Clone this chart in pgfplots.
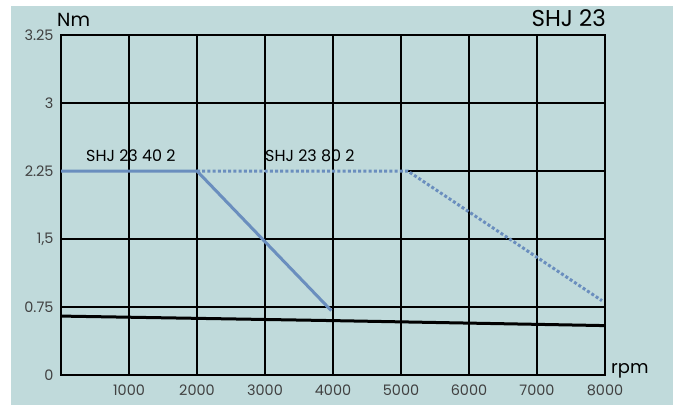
\documentclass[border=0pt]{standalone}
\usepackage{fontspec}
\setmainfont{Poppins}
\usepackage{pgfplots}
\pgfplotsset{compat=1.18}
\definecolor{bg}{RGB}{192,218,219}
\definecolor{lineblue}{RGB}{106,142,190}
\begin{document}
\begin{tikzpicture}[x=1bp,y=1bp]
\useasboundingbox (0,0) rectangle (680,-405);
\fill[white] (0,0) rectangle (680,-405);
\fill[bg] (11,-6) rectangle (673,-405);
\begin{axis}[at={(61bp,-375bp)}, anchor=south west, scale only axis,
  width=544bp, height=340bp,
  xmin=0, xmax=8000, ymin=0, ymax=3.75,
  xtick={1000,2000,3000,4000,5000,6000,7000,8000},
  xticklabels={1000,2000,3000,4000,5000,6000,7000,8000},
  ytick={0,0.75,1.5,2.25,3,3.75},
  yticklabels={0,0.75,{1,5},2.25,3,3.25},
  /pgf/number format/assume math mode=true,
  tick label style={font=\fontsize{14.5}{14.5}\selectfont, text=black!75},
  xticklabel style={yshift=-6bp},
  yticklabel style={xshift=-4bp},
  major tick length=0pt,
  tick style={draw=none},
  grid=major,
  major grid style={black, line width=1.1bp},
  axis line style={black, line width=2bp},
  clip=false]
\addplot[black, line width=3bp] coordinates {(0,0.65) (4000,0.60) (8000,0.545)};
\addplot[bg, line width=2.6bp, forget plot] coordinates {(2050,2.25) (5100,2.25)};
\addplot[lineblue, line width=3bp, dash pattern=on 3bp off 2.2bp] coordinates {(2000,2.25) (5100,2.25) (7955,0.82)};
\addplot[lineblue, line width=3bp] coordinates {(0,2.25) (2000,2.25) (3975,0.71)};
\node[anchor=base west, inner sep=0pt, font=\fontsize{16}{16}\selectfont] at (axis cs:368,2.35) {SHJ 23 40 2};
\node[anchor=base west, inner sep=0pt, font=\fontsize{16}{16}\selectfont] at (axis cs:3000,2.35) {SHJ 23 80 2};
\end{axis}
\node[anchor=base west, inner sep=0pt, font=\fontsize{19}{19}\selectfont] at (57,-26) {Nm};
\node[anchor=base east, inner sep=0pt, font=\fontsize{23}{23}\selectfont] at (606,-26) {SHJ 23};
\node[anchor=base west, inner sep=0pt, font=\fontsize{18}{18}\selectfont] at (611,-373) {rpm};
\end{tikzpicture}
\end{document}
